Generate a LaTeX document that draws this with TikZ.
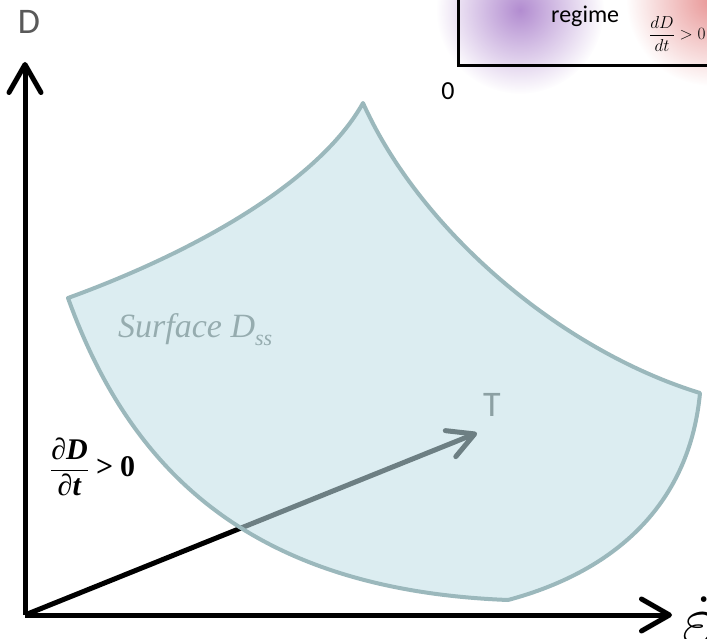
\documentclass[tikz,border=0pt]{standalone}
\usepackage{amsmath}
\usepackage{fontspec}
\setmainfont{Liberation Serif}
\newfontfamily\calibri{Carlito}
\usetikzlibrary{arrows.meta,fadings}
\definecolor{surffill}{RGB}{193,224,231}
\definecolor{surfline}{RGB}{155,184,188}
\definecolor{surftext}{RGB}{150,172,175}
\definecolor{ttext}{RGB}{140,160,163}
\definecolor{blobpurple}{RGB}{178,140,208}
\definecolor{blobred}{RGB}{232,150,150}
\tikzfading[name=blobfade, inner color=transparent!0, outer color=transparent!100]
\begin{document}
\begin{tikzpicture}[x=1pt,y=-1pt,
    axis/.style={line width=5pt,-{Straight Barb[length=28pt,width=32pt,round]}},
    trend/.style={line width=5pt,-{Straight Barb[length=26pt,width=28pt,round]}},
    surface/.style={draw=surfline,line width=4pt,fill=surffill,fill opacity=0.57},
    sanslab/.style={font=\calibri\fontsize{36}{40}\selectfont,inner sep=0pt}]
  \clip (0,0) rectangle (707,639);
  % Regime box (top right, cut off)
  \fill[blobpurple, path fading=blobfade] (520,10) circle (84);
  \fill[blobred, path fading=blobfade] (712,0) circle (86);
  \draw[line width=3pt] (458,-20) rectangle (760,66);
  \node[anchor=base west, inner sep=0pt, font=\calibri\fontsize{24}{26}\selectfont] (regime) at (551,23) {regime};
  \node[anchor=west, inner sep=0pt, font=\fontsize{19}{21}\selectfont] (rate) at (649,34) {$\dfrac{dD}{dt} > 0$};
  \node[inner sep=0pt, font=\calibri\fontsize{26}{28}\selectfont] (zero) at (448,91) {0};
  % Axes
  \coordinate (O) at (25,615);
  \coordinate (Dtip) at (25,62);
  \coordinate (Etip) at (672,615);
  \coordinate (Ttip) at (477,433);
  \draw[trend] (O) -- (Ttip);
  \draw[axis] (O) -- (Dtip);
  \draw[axis] (O) -- (Etip);
  \node[sanslab, text=black!65] (Dlab) at (29,22) {D};
  \node[anchor=base west, inner sep=0pt, scale=2.8, font=\fontsize{24}{26}\selectfont] (Elab) at (682,643) {$\dot{\varepsilon}$};
  % Surface D_ss
  \coordinate (top) at (363,103);
  \coordinate (left) at (68,298);
  \coordinate (right) at (700,393);
  \coordinate (bot) at (508,600);
  \draw[surface, line join=round] (left) .. controls (200,250) and (320,180) .. (top)
    .. controls (420,230) and (560,350) .. (right)
    .. controls (690,500) and (620,570) .. (bot)
    .. controls (250,590) and (130,470) .. cycle;
  \node[anchor=base west, inner sep=0pt, text=surftext, font=\fontsize{34}{36}\selectfont\itshape] (surf) at (118,337) {Surface D\raisebox{-9pt}{\fontsize{22}{24}\selectfont ss}};
  \node[sanslab, text=ttext] (Tlab) at (492,405) {T};
  % Growth condition
  \node[anchor=west, inner sep=0pt, font=\fontsize{30}{34}\selectfont\bfseries] (cond) at (50,467) {$\dfrac{\text{∂\textit{D}}}{\text{∂\textit{t}}}\mathrel{\text{>}}\text{0}$};
\end{tikzpicture}
\end{document}
